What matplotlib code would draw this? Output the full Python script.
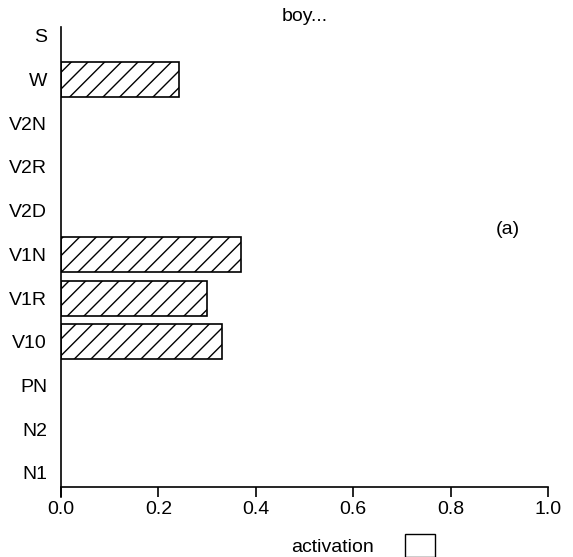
import matplotlib
matplotlib.use("Agg")
import matplotlib.pyplot as plt
from matplotlib.patches import Patch

plt.rcParams['font.family'] = ['Liberation Sans', 'DejaVu Sans']
plt.rcParams['hatch.linewidth'] = 1.0

# categories bottom -> top
units = ['N1', 'N2', 'PN', 'V10', 'V1R', 'V1N', 'V2D', 'V2R', 'V2N', 'W', 'S']
activation = [0, 0, 0, 0.33, 0.30, 0.37, 0, 0, 0, 0.243, 0]
xticks = [0.0, 0.2, 0.4, 0.6, 0.8, 1.0]

fig = plt.figure(figsize=(5.73, 5.57), dpi=100)
ax = fig.add_axes([0.1065, 0.1257, 0.85, 0.826])

ypos = list(range(len(units)))
shown = [i for i, v in enumerate(activation) if v > 0]
ax.barh([ypos[i] for i in shown], [activation[i] for i in shown], height=0.8,
        color='white', edgecolor='black', hatch='//', linewidth=1.2)

ax.set_xlim(0, 1.0)
ax.set_ylim(-0.32, 10.2)
ax.set_yticks(ypos)
ax.set_yticklabels(units)
ax.set_xticks(xticks)
ax.set_xticklabels(['%.1f' % t for t in xticks])

for s in ['top', 'right']:
    ax.spines[s].set_visible(False)
ax.spines['left'].set_linewidth(1.2)
ax.spines['bottom'].set_linewidth(1.2)
ax.spines['left'].set_bounds(-0.55, 10.2)

ax.tick_params(axis='y', length=0, pad=10, labelsize=14)
ax.tick_params(axis='x', length=7, width=1.2, pad=3, labelsize=14)

ax.set_title('boy...', fontsize=14, pad=4)
ax.text(0.917, 0.56, '(a)', transform=ax.transAxes, fontsize=14,
        ha='center', va='center')

ax.legend(handles=[Patch(facecolor='white', edgecolor='black', linewidth=1.0)],
          labels=['activation'], loc='upper center', bbox_to_anchor=(0.62, -0.065),
          frameon=False, markerfirst=False, fontsize=14,
          handlelength=1.5, handleheight=1.4, handletextpad=1.6)

fig.savefig('out.png', dpi=100)
